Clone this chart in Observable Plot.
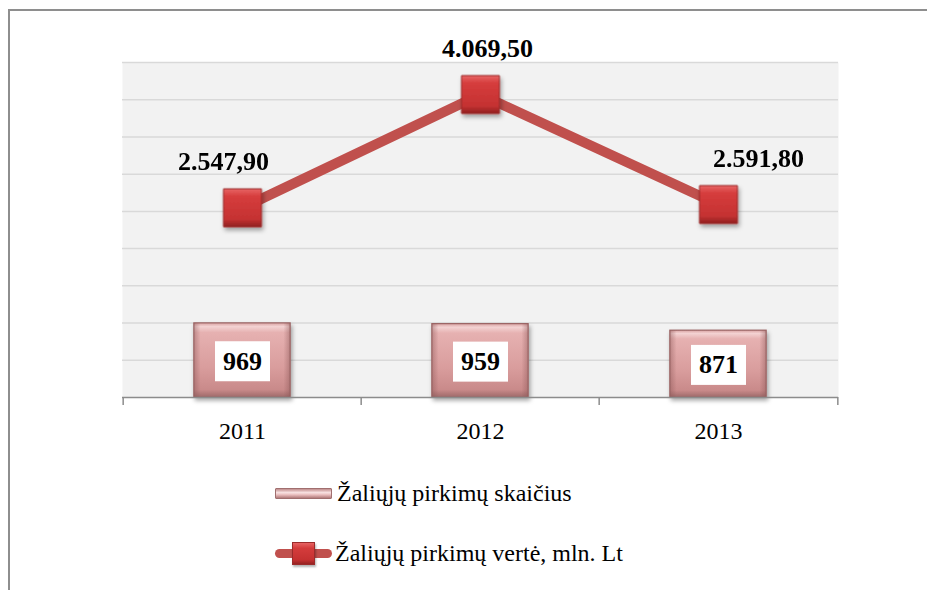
<!DOCTYPE html>
<html>
<head>
<meta charset="utf-8">
<script src="https://cdn.jsdelivr.net/npm/d3@7"></script>
<script src="https://cdn.jsdelivr.net/npm/@observablehq/plot@0.6"></script>
<style>
  body { margin:0; background:#fff; width:927px; height:590px; overflow:hidden; position:relative;
         font-family:"Liberation Serif","Times New Roman",serif; }
  #chart { position:absolute; left:0; top:0; }
  #frame { position:absolute; left:8px; top:9px; width:940px; height:600px;
           border-top:2px solid #8e8e8e; border-left:2px solid #8e8e8e; pointer-events:none; }
  .legend { position:absolute; left:275px; height:30px; display:flex; align-items:center;
            font-size:24px; color:#000; white-space:nowrap; }
  .sw-bar { width:55px; height:9px; margin-right:5px; border:1px solid #a06f6f; border-radius:1px;
            background:linear-gradient(to bottom,#c08c8c 0%,#f8e2e2 40%,#e8bcbc 65%,#b07a7a 100%); }
  .sw-line { position:relative; width:57px; height:22px; margin-right:3px; }
  .sw-line .ln { position:absolute; left:0; top:7px; width:57px; height:9px; border-radius:5px; background:#c0504d; }
  .sw-line .mk { position:absolute; left:17px; top:0; width:21px; height:21px; border:1px solid #9b2b2b;
                 background:linear-gradient(to bottom,#e76363 0%,#d43c3c 25%,#c53131 80%,#962222 100%);
                 box-shadow:1px 2px 2px rgba(0,0,0,0.3); }
</style>
</head>
<body>
<div id="chart"></div>
<div class="legend" style="top:478px;"><div class="sw-bar"></div><span>Žaliųjų pirkimų skaičius</span></div>
<div class="legend" style="top:538px;"><div class="sw-line"><div class="ln"></div><div class="mk"></div></div><span>Žaliųjų pirkimų vertė, mln. Lt</span></div>
<div id="frame"></div>
<script>
const years = ["2011", "2012", "2013"];
const counts = [969, 959, 871];
const values = [2547.9, 4069.5, 2591.8];
const valueLabels = ["2.547,90", "4.069,50", "2.591,80"];
const gridTicks = [500, 1000, 1500, 2000, 2500, 3000, 3500, 4000, 4500];

const data = years.map((y, i) => ({year: y, count: counts[i], value: values[i], label: valueLabels[i]}));

const W = 927, H = 460, ml = 122, mr = 89, mt = 62, mb = 63;
const bw = (W - ml - mr) / years.length;
const barW = 97;
const inset = (bw - barW) / 2;
const lbl = {fontSize: 26, fontWeight: "bold", fill: "#000"};

const svg = Plot.plot({
  width: W, height: H,
  marginLeft: ml, marginRight: mr, marginTop: mt, marginBottom: mb,
  style: {fontFamily: '"Liberation Serif", "Times New Roman", serif', fontSize: "24px", color: "#000", background: "transparent"},
  x: {domain: years, padding: 0, tickSize: 0, tickPadding: 24, label: null},
  y: {domain: [0, 4500], axis: null},
  marks: [
    Plot.frame({fill: "#f2f2f2", stroke: null}),
    Plot.ruleY(gridTicks, {stroke: "#d9d9d9", strokeWidth: 1.5}),
    Plot.barY(data, {x: "year", y: "count", fill: "url(#barGrad)", stroke: "#9c6666", strokeWidth: 1.2,
                     insetLeft: inset, insetRight: inset, insetTop: -2}),
    Plot.barY(data, {x: "year", y: "count", fill: "url(#sideGrad)", insetLeft: inset, insetRight: inset, insetTop: -2}),
    Plot.text(data, {x: "year", y: d => d.count / 2, text: d => String(d.count), ...lbl}),
    Plot.ruleY([0], {stroke: "#8c8c8c", strokeWidth: 1.5}),
    Plot.ruleX(years, {x: d => d, y1: 0, y2: 0, insetBottom: -8, dx: -bw / 2, stroke: "#8c8c8c", strokeWidth: 1.5}),
    Plot.ruleX(years.slice(-1), {x: d => d, y1: 0, y2: 0, insetBottom: -8, dx: bw / 2, stroke: "#8c8c8c", strokeWidth: 1.5}),
    Plot.line(data, {x: "year", y: "value", stroke: "#c0504d", strokeWidth: 10}),
    Plot.dot(data, {x: "year", y: "value", symbol: "square", r: 21.4, fill: "url(#markGrad)", stroke: "#9b2b2b", strokeWidth: 1}),
    Plot.text(data.filter(d => d.year === "2011"), {x: "year", y: "value", text: "label", dy: -46, dx: -19, ...lbl}),
    Plot.text(data.filter(d => d.year === "2012"), {x: "year", y: "value", text: "label", dy: -46, dx: 7, ...lbl}),
    Plot.text(data.filter(d => d.year === "2013"), {x: "year", y: "value", text: "label", dy: -46, dx: 40, ...lbl})
  ]
});

document.getElementById("chart").appendChild(svg);

const sel = d3.select(svg);
sel.insert("defs", ":first-child").html(`
  <linearGradient id="barGrad" x1="0" y1="0" x2="0" y2="1">
    <stop offset="0" stop-color="#d9a2a2"/>
    <stop offset="0.05" stop-color="#f3d2d2"/>
    <stop offset="0.13" stop-color="#e6b1b1"/>
    <stop offset="0.6" stop-color="#d99d9d"/>
    <stop offset="0.9" stop-color="#c98a8a"/>
    <stop offset="1" stop-color="#9f6a6a"/>
  </linearGradient>
  <linearGradient id="sideGrad" x1="0" y1="0" x2="1" y2="0">
    <stop offset="0" stop-color="#8a5555" stop-opacity="0.45"/>
    <stop offset="0.07" stop-color="#8a5555" stop-opacity="0"/>
    <stop offset="0.93" stop-color="#8a5555" stop-opacity="0"/>
    <stop offset="1" stop-color="#8a5555" stop-opacity="0.45"/>
  </linearGradient>
  <linearGradient id="markGrad" x1="0" y1="0" x2="0" y2="1">
    <stop offset="0" stop-color="#e86565"/>
    <stop offset="0.2" stop-color="#d63d3d"/>
    <stop offset="0.8" stop-color="#c53232"/>
    <stop offset="1" stop-color="#8f2020"/>
  </linearGradient>
  <filter id="shadow" x="-30%" y="-30%" width="160%" height="160%">
    <feDropShadow dx="1.5" dy="3" stdDeviation="2" flood-color="#000" flood-opacity="0.35"/>
  </filter>
`);
sel.selectAll('g[aria-label="dot"]').attr("filter", "url(#shadow)");
const barGroups = sel.selectAll('g[aria-label="bar"]').nodes();
if (barGroups.length) d3.select(barGroups[0]).attr("filter", "url(#shadow)");

// white boxes behind bar value labels
const textGroups = sel.selectAll('g[aria-label="text"]').nodes();
if (textGroups.length) {
  d3.select(textGroups[0]).selectAll("text").each(function() {
    const b = this.getBBox();
    const cx = b.x + b.width / 2, cy = b.y + b.height / 2;
    const r = document.createElementNS("http://www.w3.org/2000/svg", "rect");
    r.setAttribute("x", cx - 27.5);
    r.setAttribute("y", cy - 20);
    r.setAttribute("width", 55);
    r.setAttribute("height", 40);
    r.setAttribute("fill", "#fff");
    const t = this.getAttribute("transform");
    if (t) r.setAttribute("transform", t);
    this.parentNode.insertBefore(r, this);
  });
}
</script>
</body>
</html>
